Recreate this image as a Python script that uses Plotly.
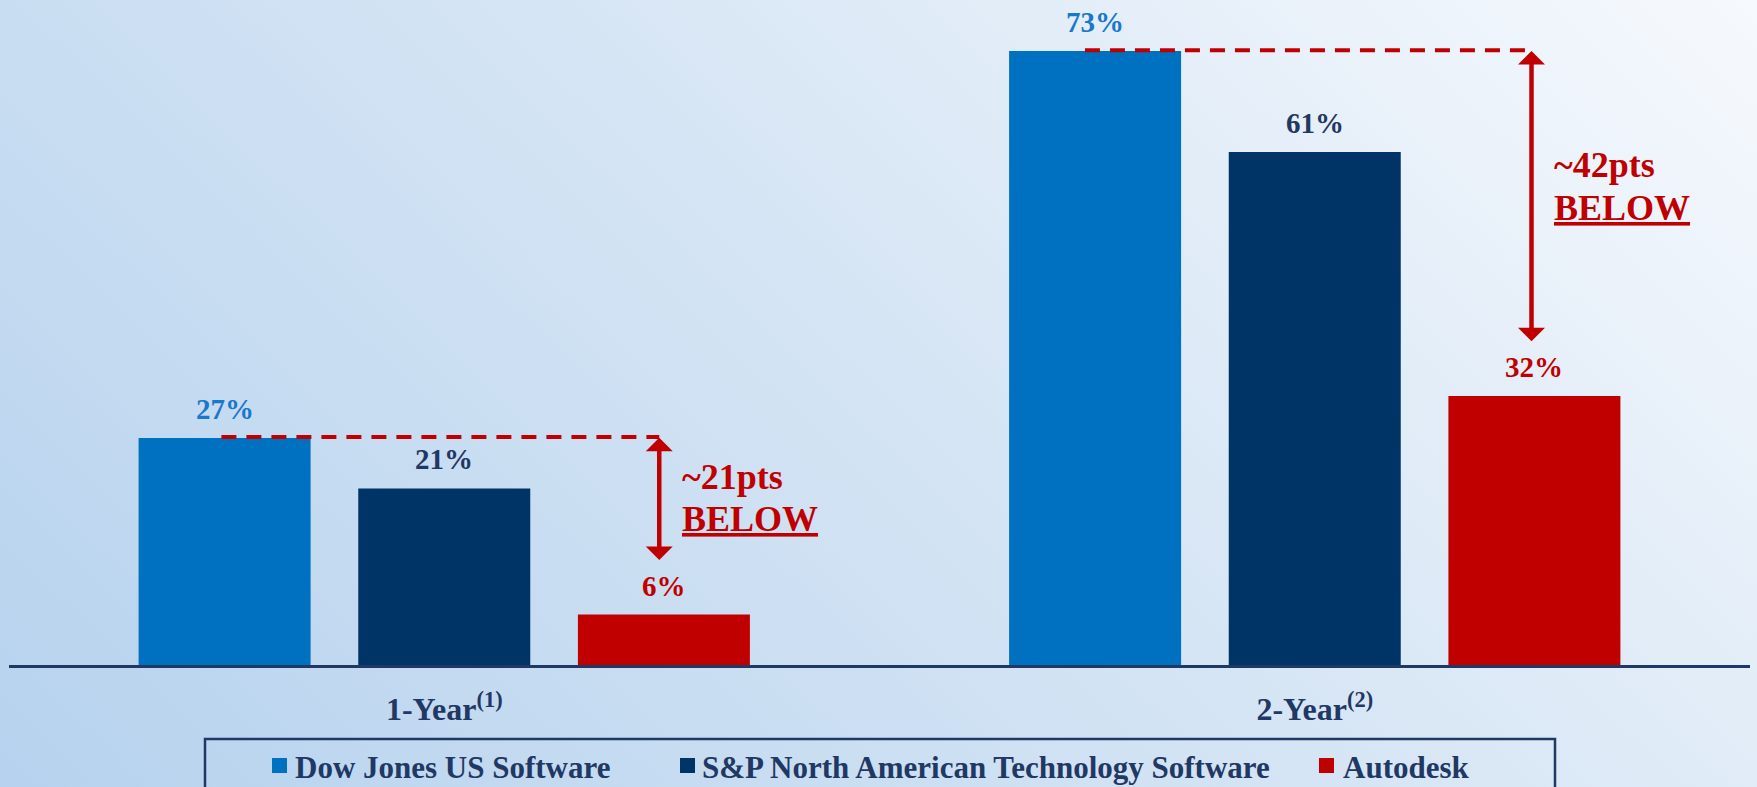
import base64
import math
import plotly.graph_objects as go

# ---------------- data ----------------
categories = ["1-Year<sup>(1)</sup>", "2-Year<sup>(2)</sup>"]
series_names = ["Dow Jones US Software",
                "S&P North American Technology Software",
                "Autodesk"]
dow_jones = [27, 73]
sp_tech = [21, 61]
autodesk = [6, 32]
gap_labels = ["~21pts", "~42pts"]

# ---------------- style ----------------
W, H = 1757, 787
FONT = "Liberation Serif, Times New Roman, serif"
NAVY = "#1F3864"
RED = "#C00000"
bar_colors = ["#0070C0", "#003366", "#C00000"]
label_colors = ["#1A78CB", "#1F3864", "#C00000"]
BARGAP = 0.243
BARGROUPGAP = 0.217

# plot area (pixels)
PL, PR, PB, PT = 9, 1750, 665, 10
YMAX = (PB - PT) / 8.41

series = [dow_jones, sp_tech, autodesk]

fig = go.Figure()
for name, vals, col in zip(series_names, series, bar_colors):
    fig.add_trace(go.Bar(x=categories, y=vals, name=name,
                         marker=dict(color=col, line=dict(width=0)),
                         showlegend=False, hoverinfo="skip"))

# background gradient (svg)
gx, gy = 0.65 / W, 0.30 / H
n = math.hypot(gx, gy)
ux, uy = gx / n, -gy / n
p = W * ux + (0 - H) * uy
x1, y1 = 0, H
x2, y2 = x1 + p * ux, y1 + p * uy
svg = (f'<svg xmlns="http://www.w3.org/2000/svg" width="{W}" height="{H}" '
       f'viewBox="0 0 {W} {H}" preserveAspectRatio="none"><defs>'
       f'<linearGradient id="g" gradientUnits="userSpaceOnUse" x1="{x1}" y1="{y1}" '
       f'x2="{x2:.1f}" y2="{y2:.1f}">'
       '<stop offset="0" stop-color="#b6d2ee"/>'
       '<stop offset="0.5" stop-color="#d4e4f4"/>'
       '<stop offset="1" stop-color="#f6f9fd"/>'
       '</linearGradient></defs>'
       f'<rect width="{W}" height="{H}" fill="url(#g)"/></svg>')
src = "data:image/svg+xml;base64," + base64.b64encode(svg.encode()).decode()

annotations = []
shapes = []

# value labels
slot = (1 - BARGAP) / 3
for j, (vals, col) in enumerate(zip(series, label_colors)):
    for i, v in enumerate(vals):
        annotations.append(dict(
            x=i + (j - 1) * slot, y=v, xref="x", yref="y",
            text=f"{v}%", showarrow=False, yanchor="bottom", yshift=11,
            font=dict(family=FONT, size=29, color=col, weight="bold")))

# dashed reference lines + double arrows + text
arrow_x = [0.247, 0.249]
dash_start = [-0.256, -0.264]
text_x = [0.271, 0.272]
text_y_top = [22.4, 59.4]
text_y_bot = [17.4, 54.4]
for i in range(2):
    shapes.append(dict(type="line", xref="x", yref="y",
                       x0=i + dash_start[i], x1=i + arrow_x[i],
                       y0=dow_jones[i] + 0.1, y1=dow_jones[i] + 0.1,
                       line=dict(color=RED, width=4, dash="15px,10px")))
    annotations.append(dict(
        x=i + arrow_x[i], y=autodesk[i] + 6.5,
        ax=i + arrow_x[i], ay=dow_jones[i] + 0.2,
        xref="x", yref="y", axref="x", ayref="y", text="",
        showarrow=True, arrowhead=1, startarrowhead=1, arrowside="end+start",
        arrowsize=1.0, startarrowsize=1.0, arrowwidth=4.5, arrowcolor=RED))
    annotations.append(dict(
        x=i + text_x[i], y=text_y_top[i], xref="x", yref="y", text=gap_labels[i],
        showarrow=False, xanchor="left", yanchor="middle",
        font=dict(family=FONT, size=36, color=RED, weight="bold")))
    annotations.append(dict(
        x=i + text_x[i], y=text_y_bot[i], xref="x", yref="y", text="<u>BELOW</u>",
        showarrow=False, xanchor="left", yanchor="middle",
        font=dict(family=FONT, size=36, color=RED, weight="bold")))

# manual legend
leg_marker_x = [272, 680, 1319]
leg_text_x = [293, 700, 1341]
shapes.append(dict(type="rect", xref="paper", yref="paper",
                   x0=205 / W, x1=1555 / W, y0=-0.05, y1=(H - 739) / H,
                   line=dict(color=NAVY, width=2.5), fillcolor="rgba(0,0,0,0)"))
for k, (name, col) in enumerate(zip(series_names, bar_colors)):
    shapes.append(dict(type="rect", xref="paper", yref="paper",
                       x0=leg_marker_x[k] / W, x1=(leg_marker_x[k] + 15) / W,
                       y0=(H - 773) / H, y1=(H - 758) / H,
                       line=dict(width=0), fillcolor=col))
    annotations.append(dict(
        x=leg_text_x[k] / W, y=(H - 767) / H, xref="paper", yref="paper",
        text=name, showarrow=False, xanchor="left", yanchor="middle",
        font=dict(family=FONT, size=31, color=NAVY, weight="bold")))

fig.update_layout(
    width=W, height=H,
    margin=dict(l=0, r=0, t=0, b=0),
    paper_bgcolor="#d5e5f4", plot_bgcolor="rgba(0,0,0,0)",
    barmode="group", bargap=BARGAP, bargroupgap=BARGROUPGAP,
    showlegend=False,
    images=[dict(source=src, xref="paper", yref="paper", x=0, y=1,
                 sizex=1, sizey=1, xanchor="left", yanchor="top",
                 sizing="stretch", layer="below")],
    xaxis=dict(domain=[PL / W, PR / W], showline=True, linecolor=NAVY,
               linewidth=3, showgrid=False, zeroline=False, ticks="",
               ticklabelstandoff=14,
               tickfont=dict(family=FONT, size=32, color=NAVY, weight="bold")),
    yaxis=dict(domain=[(H - PB) / H, (H - PT) / H], range=[0, YMAX],
               visible=False, showgrid=False, zeroline=False),
    annotations=annotations, shapes=shapes,
)

fig.write_html("out.html")
